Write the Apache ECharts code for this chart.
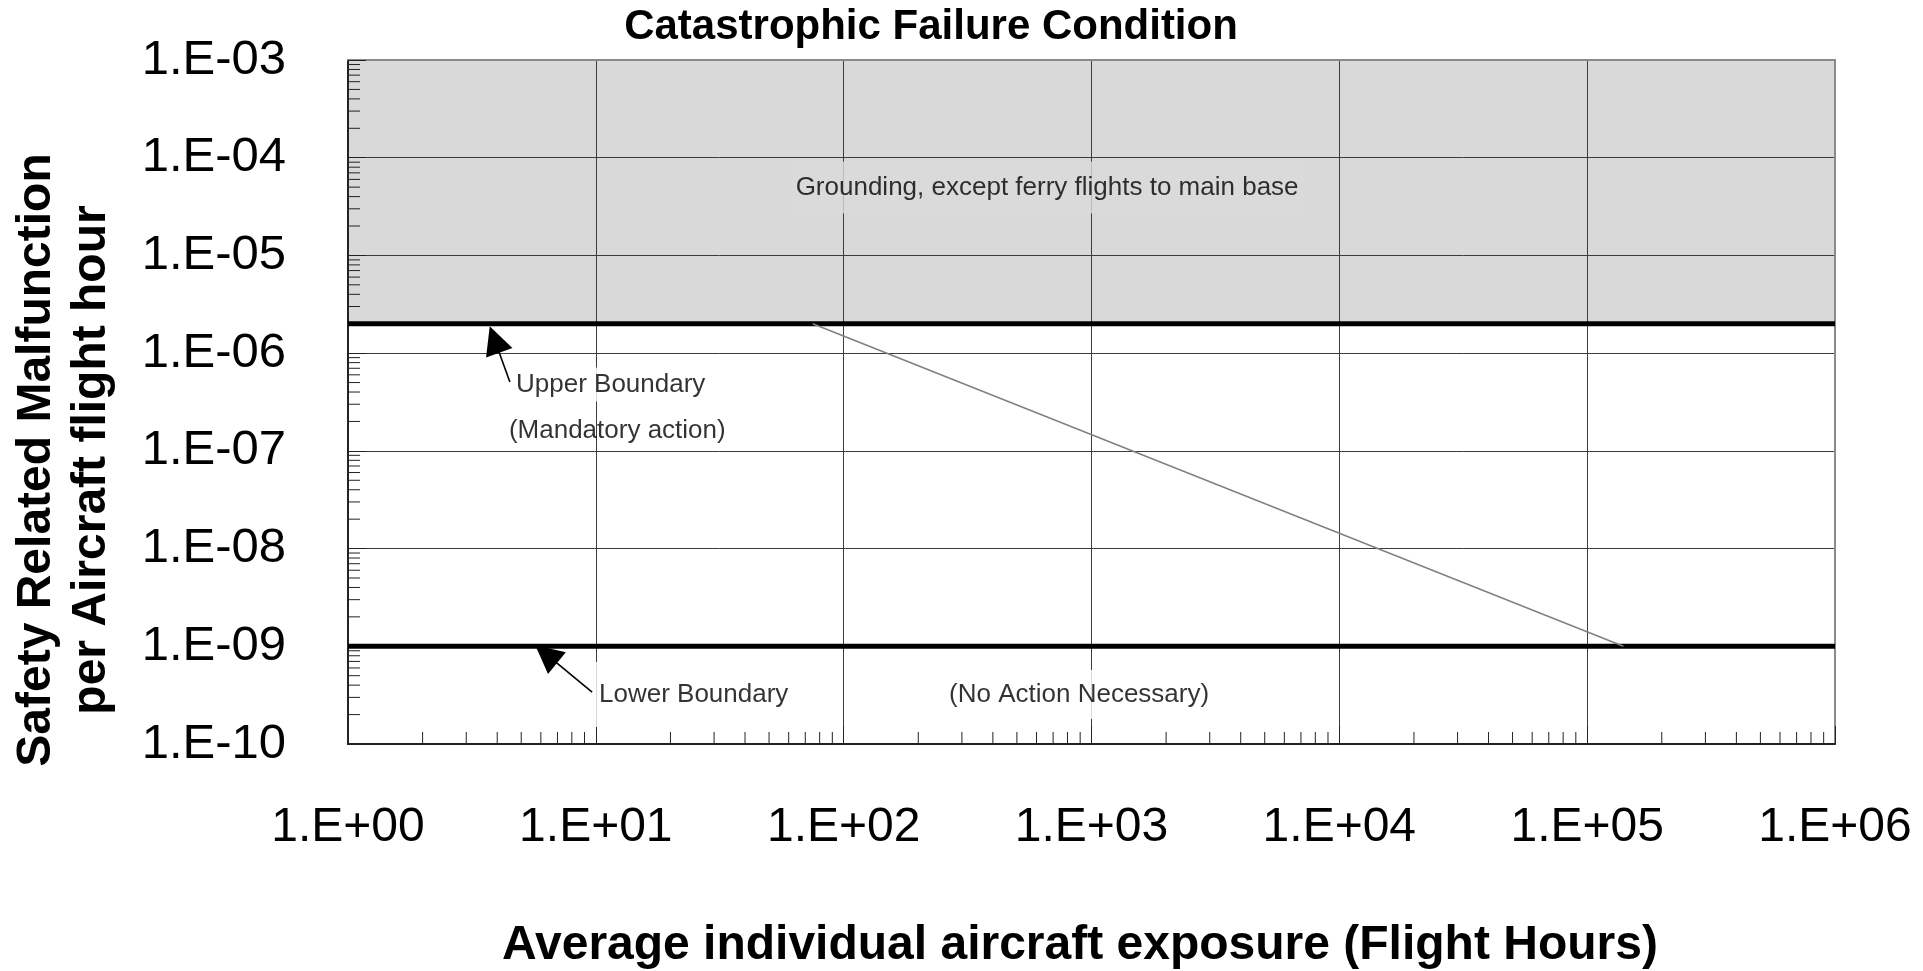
<!DOCTYPE html>
<html>
<head>
<meta charset="utf-8">
<script src="https://cdn.jsdelivr.net/npm/echarts@6/dist/echarts.min.js"></script>
<style>
html,body{margin:0;padding:0;background:#ffffff;}
#chart{width:1923px;height:971px;}
</style>
</head>
<body>
<div id="chart"></div>
<script>
// ---------- data ----------
const xRange = [1, 1e6];
const yRange = [1e-10, 1e-3];
const xTickLabels = ['1.E+00', '1.E+01', '1.E+02', '1.E+03', '1.E+04', '1.E+05', '1.E+06'];
const yTickLabels = ['1.E-10', '1.E-09', '1.E-08', '1.E-07', '1.E-06', '1.E-05', '1.E-04', '1.E-03'];
const minorMantissas = [2, 3, 4, 5, 6, 7, 8, 9];
const xDecades = [0, 1, 2, 3, 4, 5];
const yDecades = [-10, -9, -8, -7, -6, -5, -4];

const upperBoundaryX = [1, 1e6];
const upperBoundaryY = [2e-6, 2e-6];
const lowerBoundaryX = [1, 1e6];
const lowerBoundaryY = [1e-9, 1e-9];
const diagonalX = [75, 140000];
const diagonalY = [2e-6, 1e-9];

// arrows: [tailX, tailY, headX, headY]
const upperArrow = [4.5, 5.06e-7, 3.9, 1.38e-6];
const lowerArrow = [9.66, 3.4e-10, 6.3, 8.3e-10];

// annotation texts and their anchor points (data units)
const annTexts = ['Grounding, except ferry flights to main base', 'Upper Boundary', '(Mandatory action)', 'Lower Boundary', '(No Action Necessary)'];
const annX = [662, 4.59, 4.46, 9.74, 891];
const annY = [4.95e-5, 4.78e-7, 1.60e-7, 3.21e-10, 3.21e-10];

const titleText = 'Catastrophic Failure Condition';
const xTitle = 'Average individual aircraft exposure (Flight Hours)';
const yTitleLines = ['Safety Related Malfunction', 'per Aircraft flight hour'];

// ---------- build ----------
const FONT = "'Liberation Sans', Arial, Helvetica, sans-serif";
const zip = (a, b) => a.map((v, i) => [v, b[i]]);

const xMinor = [];
xDecades.forEach(e => minorMantissas.forEach(m => xMinor.push([m * Math.pow(10, e), yRange[0]])));
const yMinor = [];
yDecades.forEach(e => minorMantissas.forEach(m => yMinor.push([xRange[0], m * Math.pow(10, e)])));

const annStyles = [
  {align: 'center', backgroundColor: '#d9d9d9', padding: [0, 6, 22, 6]},
  {align: 'left', backgroundColor: '#ffffff', padding: [3, 4, 1, 4]},
  {align: 'left', backgroundColor: 'transparent', padding: [0, 0, 0, 0]},
  {align: 'left', backgroundColor: '#ffffff', padding: [14, 4, 21, 6]},
  {align: 'center', backgroundColor: '#ffffff', padding: [5, 6, 14, 6]}
];
const annData = annTexts.map((t, i) => ({
  name: t,
  value: [annX[i], annY[i]],
  label: Object.assign({
    show: true, position: 'inside', verticalAlign: 'middle',
    formatter: '{b}', color: '#000000', fontSize: 26, lineHeight: 30, fontFamily: FONT,
    textBorderWidth: 0, textBorderColor: 'transparent', textShadowBlur: 0
  }, annStyles[i])
}));

const chart = echarts.init(document.getElementById('chart'), null, {renderer: 'canvas'});

const option = {
  animation: false,
  backgroundColor: '#ffffff',
  grid: {left: 348, right: 88, top: 60, bottom: 227, containLabel: false},
  xAxis: [{
    type: 'log', logBase: 10, min: xRange[0], max: xRange[1], splitNumber: 6, z: 3,
    axisLine: {show: true, onZero: false, lineStyle: {color: '#222', width: 2}},
    axisTick: {show: true, inside: true, length: 18, lineStyle: {color: '#222', width: 1}},
    axisLabel: {
      show: true, margin: 60, color: '#000', fontSize: 48, fontFamily: FONT,
      formatter: v => xTickLabels[Math.round(Math.log10(v))]
    },
    splitLine: {show: true, lineStyle: {color: '#3c3c3c', width: 1}}
  }, {
    type: 'log', logBase: 10, min: xRange[0], max: xRange[1], position: 'top', z: 3,
    axisLine: {show: true, onZero: false, lineStyle: {color: '#8a8a8a', width: 2}},
    axisTick: {show: false}, axisLabel: {show: false}, splitLine: {show: false}
  }],
  yAxis: [{
    type: 'log', logBase: 10, min: yRange[0], max: yRange[1], splitNumber: 7, z: 3,
    axisLine: {show: true, onZero: false, lineStyle: {color: '#222', width: 2}},
    axisTick: {show: true, inside: true, length: 18, lineStyle: {color: '#222', width: 1}},
    axisLabel: {
      show: true, margin: 62, color: '#000', fontSize: 49, fontFamily: FONT,
      formatter: v => yTickLabels[Math.round(Math.log10(v)) + 10]
    },
    splitLine: {show: true, lineStyle: {color: '#3c3c3c', width: 1}}
  }, {
    type: 'log', logBase: 10, min: yRange[0], max: yRange[1], position: 'right', z: 3,
    axisLine: {show: true, onZero: false, lineStyle: {color: '#8a8a8a', width: 2}},
    axisTick: {show: false}, axisLabel: {show: false}, splitLine: {show: false}
  }],
  graphic: [
    {type: 'text', x: 931, y: 27, z: 10, style: {text: titleText, font: 'bold 42px ' + FONT, fill: '#000', textAlign: 'center', textVerticalAlign: 'middle'}},
    {type: 'text', x: 1080, y: 946, z: 10, style: {text: xTitle, font: 'bold 48px ' + FONT, fill: '#000', textAlign: 'center', textVerticalAlign: 'middle'}},
    {type: 'text', x: 37, y: 460, rotation: Math.PI / 2, z: 10, style: {text: yTitleLines[0], font: 'bold 48px ' + FONT, fill: '#000', textAlign: 'center', textVerticalAlign: 'middle'}},
    {type: 'text', x: 92, y: 460, rotation: Math.PI / 2, z: 10, style: {text: yTitleLines[1], font: 'bold 48px ' + FONT, fill: '#000', textAlign: 'center', textVerticalAlign: 'middle'}}
  ],
  series: [
    {
      name: 'Grounding zone', type: 'line', z: 1, silent: true, symbol: 'none',
      data: zip(upperBoundaryX, upperBoundaryY),
      lineStyle: {width: 0},
      areaStyle: {color: '#d9d9d9', opacity: 1, origin: 'end'}
    },
    {
      name: 'Upper Boundary', type: 'line', z: 4, silent: true, symbol: 'none',
      data: zip(upperBoundaryX, upperBoundaryY),
      lineStyle: {color: '#000', width: 5}
    },
    {
      name: 'Lower Boundary', type: 'line', z: 4, silent: true, symbol: 'none',
      data: zip(lowerBoundaryX, lowerBoundaryY),
      lineStyle: {color: '#000', width: 5}
    },
    {
      name: 'Diagonal', type: 'line', z: 4, silent: true, symbol: 'none',
      data: zip(diagonalX, diagonalY),
      lineStyle: {color: '#808080', width: 1.5}
    },
    {
      name: 'x minor ticks', type: 'custom', z: 4, silent: true,
      data: xMinor,
      renderItem: (params, api) => {
        const p = api.coord([api.value(0), api.value(1)]);
        return {type: 'line', shape: {x1: p[0], y1: p[1], x2: p[0], y2: p[1] - 12}, style: {stroke: '#222', lineWidth: 1}};
      }
    },
    {
      name: 'y minor ticks', type: 'custom', z: 4, silent: true,
      data: yMinor,
      renderItem: (params, api) => {
        const p = api.coord([api.value(0), api.value(1)]);
        return {type: 'line', shape: {x1: p[0], y1: p[1], x2: p[0] + 12, y2: p[1]}, style: {stroke: '#222', lineWidth: 1}};
      }
    },
    {
      name: 'arrows', type: 'lines', coordinateSystem: 'cartesian2d', z: 5, silent: true,
      symbol: ['none', 'triangle'], symbolSize: [22, 28],
      lineStyle: {color: '#000', width: 1.6, opacity: 1},
      data: [
        {coords: [[upperArrow[0], upperArrow[1]], [upperArrow[2], upperArrow[3]]]},
        {coords: [[lowerArrow[0], lowerArrow[1]], [lowerArrow[2], lowerArrow[3]]]}
      ]
    },
    {
      name: 'annotations', type: 'scatter', z: 6, silent: true,
      symbolSize: 1, itemStyle: {color: 'rgba(0,0,0,0)'},
      data: annData
    }
  ]
};
chart.setOption(option);
</script>
</body>
</html>
